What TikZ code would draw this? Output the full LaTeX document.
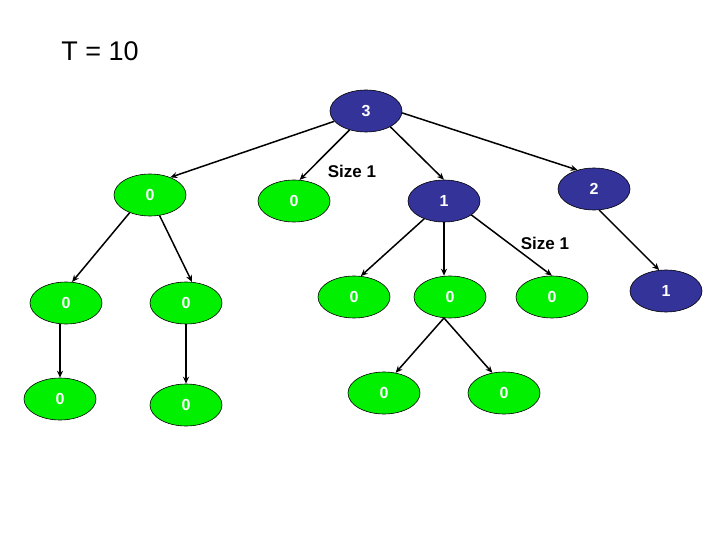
\documentclass[tikz,border=0pt]{standalone}
\usepackage{fontspec}
\setmainfont{Liberation Sans}
\usetikzlibrary{shapes.geometric,arrows.meta}
\definecolor{nodeblue}{RGB}{51,51,153}
\definecolor{leafgreen}{RGB}{0,240,0}

\begin{document}
\begin{tikzpicture}[x=1pt, y=-1pt,
  bubble/.style={ellipse, draw=black, line width=0.6pt, minimum width=72pt, minimum height=42pt, inner sep=0pt, text=white, font=\fontsize{16}{16}\selectfont\bfseries},
  full/.style={bubble, fill=nodeblue},
  empty/.style={bubble, fill=leafgreen},
  arr/.style={-{Stealth[length=7pt,width=6pt]}, line width=1.5pt},
  note/.style={font=\fontsize{17}{17}\selectfont\bfseries}]
\useasboundingbox (0,0) rectangle (720,540);
\node[font=\fontsize{27}{27}\selectfont] (title) at (100,51) {T = 10};
\node[full] (root) at (366,111) {3};
\node[empty] (a) at (150,195) {0};
\node[empty] (b) at (294,201) {0};
\node[full] (c) at (444,201) {1};
\node[full] (d) at (594,189) {2};
\node[empty] (e) at (66,303) {0};
\node[empty] (f) at (186,303) {0};
\node[empty] (g) at (354,297) {0};
\node[empty] (h) at (450,297) {0};
\node[empty] (i) at (552,297) {0};
\node[full] (j) at (666,291) {1};
\node[empty] (k) at (60,399) {0};
\node[empty] (l) at (186,405) {0};
\node[empty] (m) at (384,393) {0};
\node[empty] (n) at (504,393) {0};
\node[note] (size1) at (352,171) {Size 1};
\node[note] (size2) at (545,243) {Size 1};
\draw[arr] (root.198) -- (a.41);
\draw[arr] (root.229) -- (b.75);
\draw[arr] (root.327) -- (c.north);
\draw[arr] (root.357) -- (d.131);
\draw[arr] (a.221) -- (e.74);
\draw[arr] (a.295) -- (f.74);
\draw[arr] (k.north |- e.south) -- (k.north);
\draw[arr] (f.south) -- (l.north);
\draw[arr] (c.222) -- (g.72);
\draw[arr] (c.south) -- (c.south |- h.north);
\draw[arr] (c.333) -- (i.north);
\draw[arr] (d.284) -- (j.108);
\draw[arr] (h.254) -- (m.60);
\draw[arr] (h.254) -- (n.120);
\end{tikzpicture}
\end{document}
